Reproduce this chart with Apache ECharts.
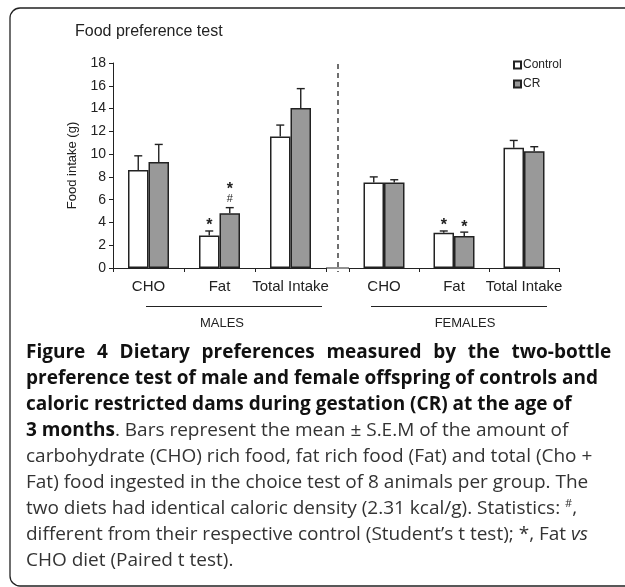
<!DOCTYPE html>
<html>
<head>
<meta charset="utf-8">
<script src="https://cdn.jsdelivr.net/npm/echarts@6/dist/echarts.min.js"></script>
<style>
html, body { margin: 0; padding: 0; background: #fff; }
#chart { width: 625px; height: 587px; }
</style>
</head>
<body>
<div id="chart"></div>
<script>
// data (mean and S.E.M, grams)
var categories = ['CHO', 'Fat', 'Total Intake'];
var malesControl = [8.6, 2.85, 11.55];
var malesControlSem = [1.25, 0.4, 1.0];
var malesCR = [9.3, 4.8, 14.05];
var malesCRSem = [1.55, 0.5, 1.7];
var femalesControl = [7.5, 3.1, 10.55];
var femalesControlSem = [0.5, 0.15, 0.65];
var femalesCR = [7.5, 2.8, 10.25];
var femalesCRSem = [0.25, 0.35, 0.4];
// significance marks: star = Fat vs CHO, hash = vs control
var malesControlStar = ['', '*', ''];
var malesCRStar = ['', '*', ''];
var malesCRHash = ['', '#', ''];
var femalesControlStar = ['', '*', ''];
var femalesCRStar = ['', '*', ''];
var noHash = ['', '', ''];
var yTicks = [0, 2, 4, 6, 8, 10, 12, 14, 16, 18];

var ink = '#222';
var grey = '#999';
var axisFont = 'Liberation Sans, Arial, sans-serif';
var capFont = 'Open Sans, sans-serif';

var chart = echarts.init(document.getElementById('chart'));

function barSeries(name, xi, vals, color) {
  return {
    name: name,
    type: 'bar',
    xAxisIndex: xi,
    yAxisIndex: xi,
    barWidth: 20.5,
    barGap: '0%',
    data: vals,
    silent: true,
    itemStyle: { color: color, borderColor: ink, borderWidth: 1.5 }
  };
}

function errorSeries(xi, vals, sems, stars, hashes, offset) {
  return {
    type: 'custom',
    xAxisIndex: xi,
    yAxisIndex: xi,
    silent: true,
    z: 5,
    data: vals.map(function (v, i) { return [i, v, v + sems[i]]; }),
    renderItem: function (params, api) {
      var i = params.dataIndex;
      var base = api.coord([api.value(0), api.value(1)]);
      var top = api.coord([api.value(0), api.value(2)]);
      var x = base[0] + offset;
      var kids = [
        { type: 'line', shape: { x1: x, y1: base[1], x2: x, y2: top[1] }, style: { stroke: ink, lineWidth: 1.4 } },
        { type: 'line', shape: { x1: x - 4, y1: top[1], x2: x + 4, y2: top[1] }, style: { stroke: ink, lineWidth: 1.4 } }
      ];
      var y = top[1];
      if (hashes[i]) {
        kids.push({ type: 'text', style: { text: hashes[i], x: x, y: y - 9, textAlign: 'center', textVerticalAlign: 'middle', font: '11px ' + axisFont, fill: ink } });
        y -= 13;
      }
      if (stars[i]) {
        kids.push({ type: 'text', style: { text: stars[i], x: x, y: y - 5, textAlign: 'center', textVerticalAlign: 'middle', font: 'bold 16px ' + axisFont, fill: ink } });
      }
      return { type: 'group', children: kids };
    }
  };
}

var xAxisCommon = {
  type: 'category',
  data: categories,
  axisLine: { lineStyle: { color: ink, width: 1 } },
  axisTick: { show: true, length: 4, lineStyle: { color: ink } },
  axisLabel: { color: ink, fontSize: 15, fontFamily: axisFont, margin: 11, interval: 0 }
};

// first caption line is justified in the original, so its word gaps are widened
var firstLine = 'Figure 4 Dietary preferences measured by the two-bottle'.split(' ')
  .map(function (w) { return '{b|' + w + '}'; }).join('{sp| }');

var captionLines = [
  firstLine,
  '{b|preference test of male and female offspring of controls and}',
  '{b|caloric restricted dams during gestation (CR) at the age of}',
  '{b|3 months}. Bars represent the mean \u00b1 S.E.M of the amount of',
  'carbohydrate (CHO) rich food, fat rich food (Fat) and total (Cho +',
  'Fat) food ingested in the choice test of 8 animals per group. The',
  'two diets had identical caloric density (2.31 kcal/g). Statistics: {sup|#},',
  'different from their respective control (Student\u2019s t test); *, Fat {i|vs}',
  'CHO diet (Paired t test).'
];

var graphics = [
  { type: 'rect', shape: { x: 10, y: 8, width: 640, height: 578, r: 10 }, style: { fill: 'none', stroke: ink, lineWidth: 1.3 }, silent: true },
  { type: 'text', style: { text: 'Food preference test', x: 75, y: 32, textVerticalAlign: 'middle', font: '16px ' + axisFont, fill: ink } },
  // axis segment between the two panels and the dashed divider
  { type: 'line', shape: { x1: 326, y1: 268, x2: 349, y2: 268 }, style: { stroke: ink, lineWidth: 1 } },
  { type: 'line', shape: { x1: 338, y1: 64, x2: 338, y2: 272 }, style: { stroke: ink, lineWidth: 1.3, lineDash: [5, 4] } },
  { type: 'line', shape: { x1: 146, y1: 306.5, x2: 322, y2: 306.5 }, style: { stroke: ink, lineWidth: 1 } },
  { type: 'line', shape: { x1: 371, y1: 306.5, x2: 547, y2: 306.5 }, style: { stroke: ink, lineWidth: 1 } },
  { type: 'text', style: { text: 'MALES', x: 222, y: 323, textAlign: 'center', textVerticalAlign: 'middle', font: '13px ' + axisFont, fill: ink } },
  { type: 'text', style: { text: 'FEMALES', x: 465, y: 323, textAlign: 'center', textVerticalAlign: 'middle', font: '13px ' + axisFont, fill: ink } }
];

captionLines.forEach(function (line, i) {
  graphics.push({
    type: 'text',
    style: {
      text: line,
      x: 26,
      y: 353 + i * 25.9,
      textVerticalAlign: 'middle',
      font: '19px ' + capFont,
      fill: '#333',
      rich: {
        b: { fontWeight: 'bold', fontSize: 19, fontFamily: capFont, fill: '#111' },
        sp: { fontWeight: 'bold', fontSize: 19, fontFamily: capFont, width: 11.7 },
        i: { fontStyle: 'italic', fontSize: 19, fontFamily: capFont, fill: '#333' },
        sup: { fontSize: 11, fontFamily: capFont, fill: '#333', verticalAlign: 'top', padding: [0, 0, 9, 0] }
      }
    }
  });
});

chart.setOption({
  animation: false,
  backgroundColor: '#fff',
  legend: {
    data: ['Control', 'CR'],
    orient: 'vertical',
    left: 508,
    top: 54,
    itemWidth: 7,
    itemHeight: 7,
    itemGap: 7,
    icon: 'rect',
    textStyle: { color: ink, fontSize: 12, fontFamily: axisFont, padding: [0, 0, 0, -3] },
    selectedMode: false
  },
  grid: [
    { left: 113, top: 63, width: 213, height: 205 },
    { left: 349, top: 63, width: 210, height: 205 }
  ],
  xAxis: [
    Object.assign({ gridIndex: 0 }, xAxisCommon),
    Object.assign({ gridIndex: 1 }, xAxisCommon)
  ],
  yAxis: [
    {
      gridIndex: 0,
      type: 'value',
      min: yTicks[0],
      max: yTicks[yTicks.length - 1],
      interval: 2,
      name: 'Food intake (g)',
      nameLocation: 'middle',
      nameGap: 34,
      nameTextStyle: { color: ink, fontSize: 13, fontFamily: axisFont },
      axisLine: { show: true, lineStyle: { color: ink, width: 1 } },
      axisTick: { show: true, length: 4, lineStyle: { color: ink } },
      axisLabel: { color: ink, fontSize: 14, fontFamily: axisFont, margin: 7 },
      splitLine: { show: false }
    },
    {
      gridIndex: 1,
      type: 'value',
      min: yTicks[0],
      max: yTicks[yTicks.length - 1],
      interval: 2,
      show: false,
      splitLine: { show: false }
    }
  ],
  graphic: graphics,
  series: [
    barSeries('Control', 0, malesControl, '#fff'),
    barSeries('CR', 0, malesCR, grey),
    barSeries('Control', 1, femalesControl, '#fff'),
    barSeries('CR', 1, femalesCR, grey),
    errorSeries(0, malesControl, malesControlSem, malesControlStar, noHash, -10.25),
    errorSeries(0, malesCR, malesCRSem, malesCRStar, malesCRHash, 10.25),
    errorSeries(1, femalesControl, femalesControlSem, femalesControlStar, noHash, -10.25),
    errorSeries(1, femalesCR, femalesCRSem, femalesCRStar, noHash, 10.25)
  ]
});
</script>
</body>
</html>
